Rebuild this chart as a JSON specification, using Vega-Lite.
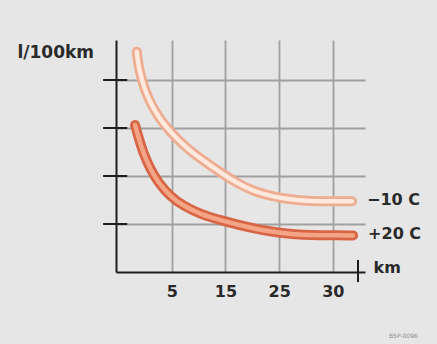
{
  "$schema": "https://vega.github.io/schema/vega-lite/v6.json",
  "width": 249,
  "height": 232,
  "autosize": "none",
  "padding": {"left": 116, "top": 40, "right": 72, "bottom": 72},
  "background": "#e6e6e6",
  "config": {"view": {"stroke": null}, "font": "DejaVu Sans"},
  "title": {"text": "B5P-0096", "orient": "bottom", "anchor": "start", "align": "left", "fontSize": 6, "fontWeight": "normal", "color": "#8a8a8a", "offset": 34, "dx": 372},
  "datasets": {
    "curves": [
      {"series": "−10 C", "u": 0.347, "v": 4.59},
      {"series": "−10 C", "u": 0.376, "v": 4.313},
      {"series": "−10 C", "u": 0.44, "v": 4.0},
      {"series": "−10 C", "u": 0.533, "v": 3.688},
      {"series": "−10 C", "u": 0.656, "v": 3.41},
      {"series": "−10 C", "u": 0.813, "v": 3.131},
      {"series": "−10 C", "u": 0.999, "v": 2.89},
      {"series": "−10 C", "u": 1.215, "v": 2.646},
      {"series": "−10 C", "u": 1.401, "v": 2.473},
      {"series": "−10 C", "u": 1.681, "v": 2.25},
      {"series": "−10 C", "u": 1.936, "v": 2.052},
      {"series": "−10 C", "u": 2.216, "v": 1.854},
      {"series": "−10 C", "u": 2.514, "v": 1.688},
      {"series": "−10 C", "u": 2.831, "v": 1.583},
      {"series": "−10 C", "u": 3.148, "v": 1.521},
      {"series": "−10 C", "u": 3.446, "v": 1.485},
      {"series": "−10 C", "u": 3.763, "v": 1.475},
      {"series": "−10 C", "u": 4.079, "v": 1.473},
      {"series": "−10 C", "u": 4.359, "v": 1.473},
      {"series": "+20 C", "u": 0.315, "v": 3.063},
      {"series": "+20 C", "u": 0.376, "v": 2.819},
      {"series": "+20 C", "u": 0.47, "v": 2.473},
      {"series": "+20 C", "u": 0.594, "v": 2.16},
      {"series": "+20 C", "u": 0.749, "v": 1.86},
      {"series": "+20 C", "u": 0.967, "v": 1.58},
      {"series": "+20 C", "u": 1.215, "v": 1.375},
      {"series": "+20 C", "u": 1.558, "v": 1.195},
      {"series": "+20 C", "u": 1.899, "v": 1.083},
      {"series": "+20 C", "u": 2.216, "v": 0.99},
      {"series": "+20 C", "u": 2.514, "v": 0.91},
      {"series": "+20 C", "u": 2.831, "v": 0.844},
      {"series": "+20 C", "u": 3.148, "v": 0.8},
      {"series": "+20 C", "u": 3.446, "v": 0.775},
      {"series": "+20 C", "u": 3.763, "v": 0.765},
      {"series": "+20 C", "u": 4.079, "v": 0.763},
      {"series": "+20 C", "u": 4.378, "v": 0.763}
    ],
    "ticks": [{"v": 1}, {"v": 2}, {"v": 3}, {"v": 4}]
  },
  "resolve": {"scale": {"color": "independent"}},
  "layer": [
    {
      "data": {"name": "curves"},
      "mark": {"type": "line", "strokeWidth": 10, "strokeCap": "round", "strokeJoin": "round", "interpolate": "basis"},
      "encoding": {
        "x": {
          "field": "u", "type": "quantitative",
          "scale": {"domain": [-0.04, 4.6], "nice": false, "zero": false},
          "axis": {
            "values": [1, 2, 3, 4],
            "labelExpr": "datum.value == 1 ? '5' : datum.value == 2 ? '15' : datum.value == 3 ? '25' : '30'",
            "domain": true, "domainColor": "#1e1e1e", "domainWidth": 2,
            "ticks": false,
            "grid": true, "gridColor": "#a0a0a0", "gridWidth": 1.8,
            "labelFontSize": 16, "labelFontWeight": "bold", "labelColor": "#2a2a2a", "labelPadding": 11,
            "title": "km", "titleX": 257, "titleY": -5, "titleAlign": "left", "titleBaseline": "middle",
            "titleFontSize": 16, "titleFontWeight": "bold", "titleColor": "#2a2a2a"
          }
        },
        "y": {
          "field": "v", "type": "quantitative",
          "scale": {"domain": [0, 4.8333], "nice": false},
          "axis": {
            "values": [1, 2, 3, 4],
            "domain": true, "domainColor": "#1e1e1e", "domainWidth": 2,
            "ticks": false, "labels": false,
            "grid": true, "gridColor": "#a0a0a0", "gridWidth": 1.8,
            "title": "l/100km", "titleAngle": 0, "titleX": -99, "titleY": 12,
            "titleAlign": "left", "titleBaseline": "middle",
            "titleFontSize": 17, "titleFontWeight": "bold", "titleColor": "#2a2a2a"
          }
        },
        "color": {"field": "series", "type": "nominal", "scale": {"domain": ["−10 C", "+20 C"], "range": ["#eeac90", "#d86545"]}, "legend": null}
      }
    },
    {
      "data": {"name": "curves"},
      "mark": {"type": "line", "strokeWidth": 4.5, "strokeCap": "round", "strokeJoin": "round", "interpolate": "basis"},
      "encoding": {
        "x": {"field": "u", "type": "quantitative"},
        "y": {"field": "v", "type": "quantitative"},
        "color": {"field": "series", "type": "nominal", "scale": {"domain": ["−10 C", "+20 C"], "range": ["#fde9de", "#f3a585"]}, "legend": null}
      }
    },
    {
      "data": {"name": "curves"},
      "transform": [{"filter": "datum.u > 4.3"}],
      "mark": {"type": "text", "align": "left", "baseline": "middle", "dx": 15, "dy": -1, "fontSize": 16, "fontWeight": "bold", "color": "#2a2a2a"},
      "encoding": {
        "x": {"field": "u", "type": "quantitative"},
        "y": {"field": "v", "type": "quantitative"},
        "text": {"field": "series"}
      }
    },
    {
      "data": {"name": "ticks"},
      "mark": {"type": "rule", "color": "#1e1e1e", "strokeWidth": 2},
      "encoding": {
        "y": {"field": "v", "type": "quantitative"},
        "x": {"datum": -0.28},
        "x2": {"datum": 0.17}
      }
    },
    {
      "data": {"values": [{"v": 0}]},
      "mark": {"type": "rule", "color": "#1e1e1e", "strokeWidth": 2},
      "encoding": {
        "x": {"datum": 4.47},
        "y": {"datum": -0.21},
        "y2": {"datum": 0.25}
      }
    }
  ]
}
